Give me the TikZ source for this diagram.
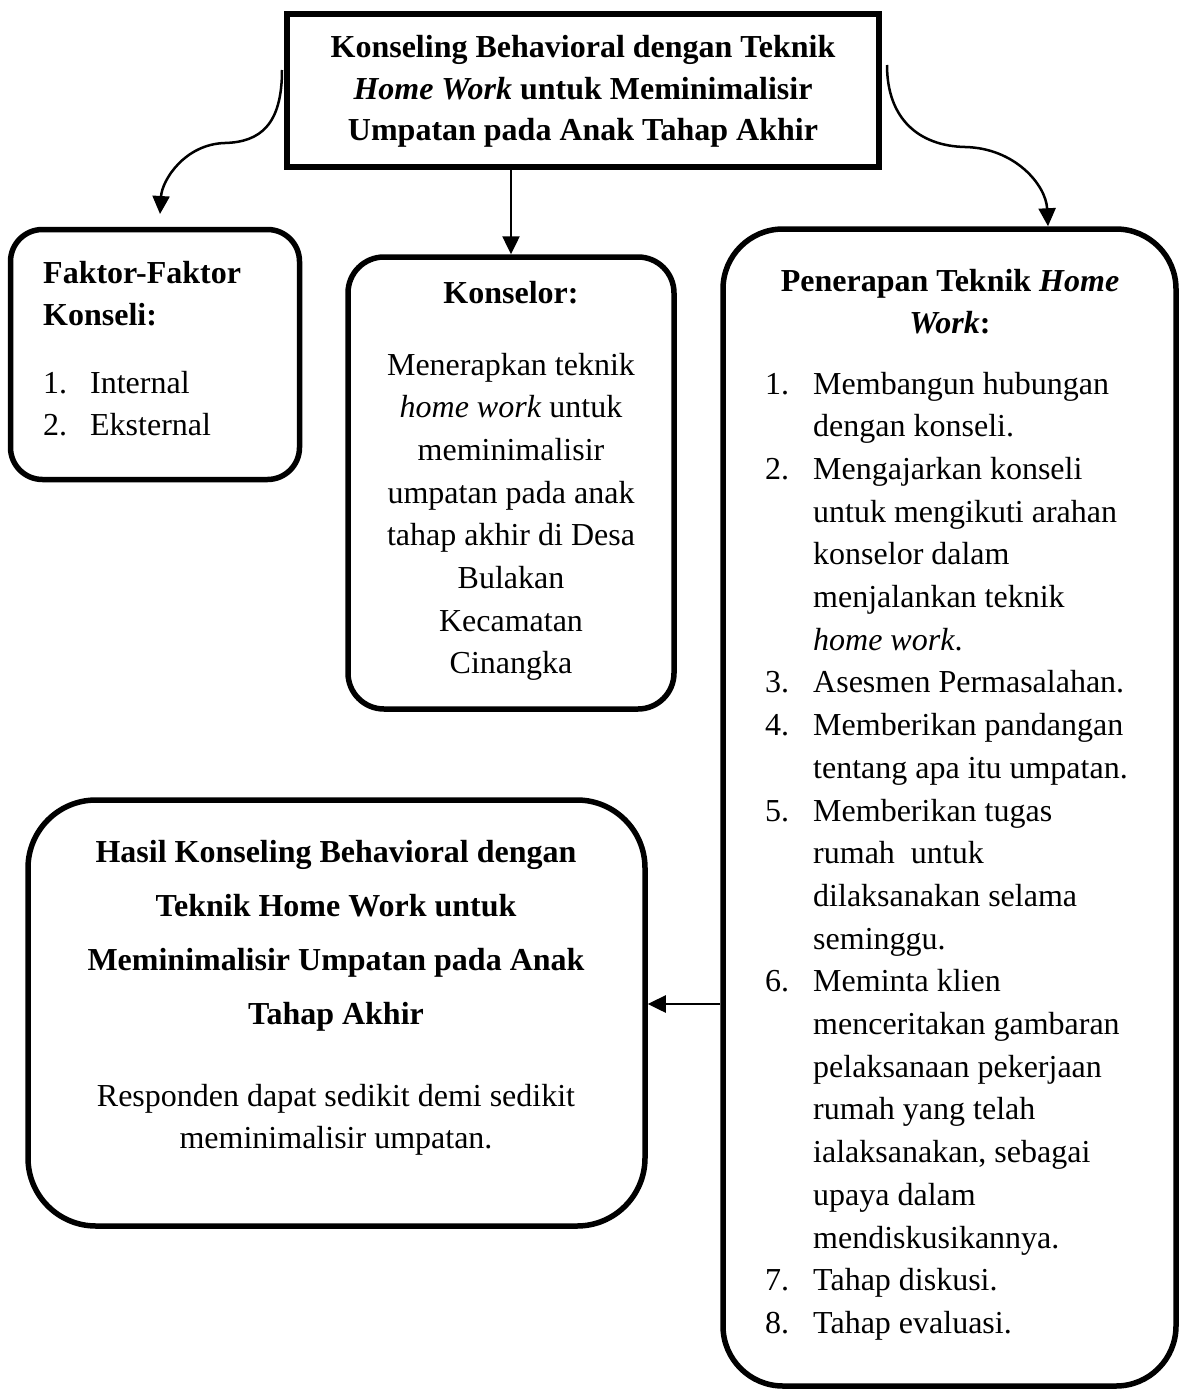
\documentclass[tikz,border=0pt]{standalone}
\usepackage{fontspec}
\setmainfont{Liberation Serif}
\usetikzlibrary{arrows.meta}
\begin{document}
\begin{tikzpicture}[x=1pt,y=-1pt,
  topbox/.style={draw, line width=6pt, inner sep=0pt},
  roundbox/.style={draw, line width=5.5pt, inner sep=0pt},
  arr/.style={line width=2.5pt, -{Triangle[width=17pt,length=18pt]}},
  txt/.style={inner sep=0pt, font=\fontsize{32}{42.7}\selectfont}]
\useasboundingbox (0,0) rectangle (1179,1389);

% boxes
\node[topbox, minimum width=592pt, minimum height=153pt] (top) at (583,90.5) {};
\node[roundbox, rounded corners=32pt, minimum width=289pt, minimum height=250pt] (faktor) at (155,354.5) {};
\node[roundbox, rounded corners=36pt, minimum width=326pt, minimum height=452pt] (konselor) at (511,483) {};
\node[roundbox, rounded corners=60pt, minimum width=453pt, minimum height=1157pt] (penerapan) at (949.5,807.5) {};
\node[roundbox, rounded corners=68pt, minimum width=617pt, minimum height=426pt] (hasil) at (336.5,1013) {};

% texts
\node[txt, font=\fontsize{32}{41.5}\selectfont, anchor=base] (toptext) at (583,58) {\bfseries\begin{tabular}[t]{@{}c@{}}Konseling Behavioral dengan Teknik\\ \textit{Home Work} untuk Meminimalisir\\ Umpatan pada Anak Tahap Akhir\end{tabular}};

\node[txt, font=\fontsize{32}{42}\selectfont, anchor=base west] (faktortitle) at (43,283) {\bfseries\begin{tabular}[t]{@{}l@{}}Faktor-Faktor\\ Konseli:\end{tabular}};
\node[txt, anchor=base west] (faktorlist) at (43,393) {\begin{tabular}[t]{@{}p{47pt}@{}l@{}}1.&Internal\\ 2.&Eksternal\end{tabular}};

\node[txt, anchor=base] (konselortitle) at (511,303) {\bfseries Konselor:};
\node[txt, anchor=base] (konselorbody) at (511,375) {\begin{tabular}[t]{@{}c@{}}Menerapkan teknik\\ \textit{home work} untuk\\ meminimalisir\\ umpatan pada anak\\ tahap akhir di Desa\\ Bulakan\\ Kecamatan\\ Cinangka\end{tabular}};

\node[txt, anchor=base] (penerapantitle) at (950,291) {\bfseries\begin{tabular}[t]{@{}c@{}}Penerapan Teknik \textit{Home}\\ \textit{Work}:\end{tabular}};
\node[txt, anchor=base west] (penerapanlist) at (765,394) {\begin{tabular}[t]{@{}p{48pt}@{}l@{}}
1.&Membangun hubungan\\
  &dengan konseli.\\
2.&Mengajarkan konseli\\
  &untuk mengikuti arahan\\
  &konselor dalam\\
  &menjalankan teknik\\
  &\textit{home work}.\\
3.&Asesmen Permasalahan.\\
4.&Memberikan pandangan\\
  &tentang apa itu umpatan.\\
5.&Memberikan tugas\\
  &rumah\ \ untuk\\
  &dilaksanakan selama\\
  &seminggu.\\
6.&Meminta klien\\
  &menceritakan gambaran\\
  &pelaksanaan pekerjaan\\
  &rumah yang telah\\
  &ialaksanakan, sebagai\\
  &upaya dalam\\
  &mendiskusikannya.\\
7.&Tahap diskusi.\\
8.&Tahap evaluasi.
\end{tabular}};

\node[txt, font=\fontsize{32}{54}\selectfont, anchor=base] (hasiltitle) at (336,862) {\bfseries\begin{tabular}[t]{@{}c@{}}Hasil Konseling Behavioral dengan\\ Teknik Home Work untuk\\ Meminimalisir Umpatan pada Anak\\ Tahap Akhir\end{tabular}};
\node[txt, font=\fontsize{32}{42}\selectfont, anchor=base] (hasilbody) at (336,1106) {\begin{tabular}[t]{@{}c@{}}Responden dapat sedikit demi sedikit\\ meminimalisir umpatan.\end{tabular}};

% connectors
\coordinate (lstart) at (282,70);
\coordinate (lend) at (160,214);
\coordinate (rstart) at (887,65);
\draw[arr] (lstart) .. controls (282,125) and (260,142) .. (225,143) .. controls (185,144) and (162,180) .. (lend);
\draw[arr] (rstart) .. controls (887,120) and (920,146) .. (965,147) .. controls (1015,148) and (1046,185) .. (penerapan.north -| 1048,0);
\draw[arr] (top.south -| konselor.north) -- (konselor.north);
\draw[arr] (penerapan.west |- 0,1004) -- (hasil.east |- 0,1004);
\end{tikzpicture}
\end{document}
